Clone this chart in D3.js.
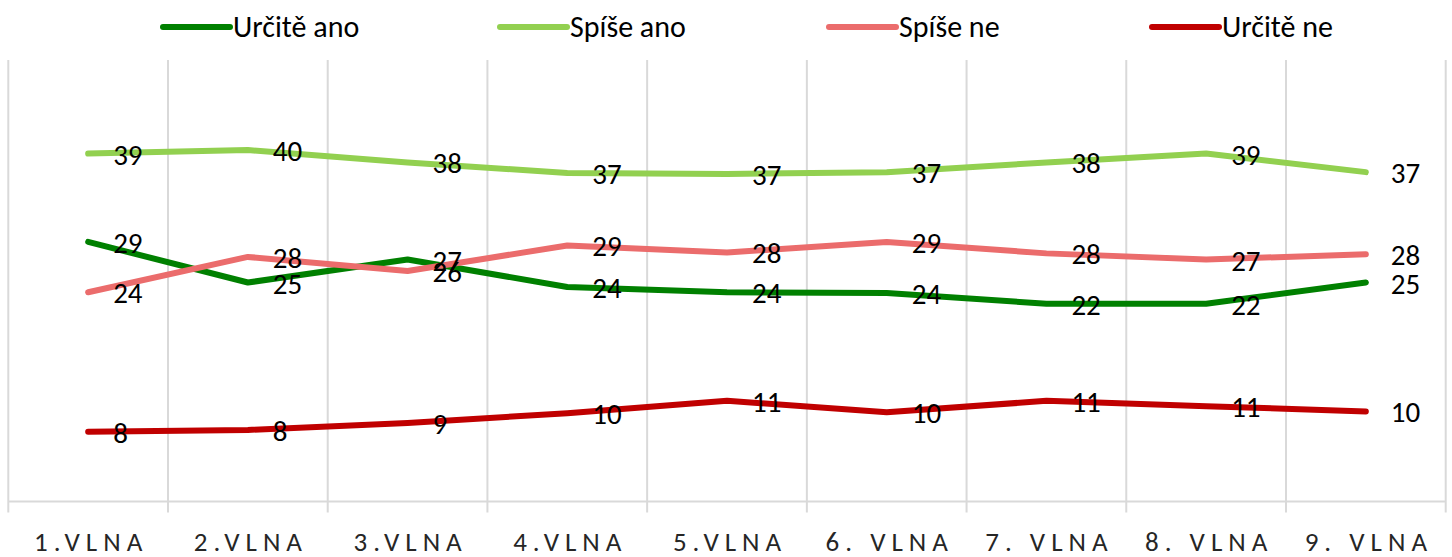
<!DOCTYPE html>
<html>
<head>
<meta charset="utf-8">
<script src="https://cdn.jsdelivr.net/npm/d3@7"></script>
<style>
  body { margin: 0; background: #fff; }
  svg { display: block; font-family: Carlito, Lato, sans-serif; }
</style>
</head>
<body>
<svg width="1452" height="557"></svg>
<script>
// waves on the x axis
var waves = ["1.VLNA", "2.VLNA", "3.VLNA", "4.VLNA", "5.VLNA", "6. VLNA", "7. VLNA", "8. VLNA", "9. VLNA"];

// series values (labels show rounded values)
var urciteAno = [29.4, 24.8, 27.4, 24.3, 23.7, 23.6, 22.4, 22.4, 24.8];
var spiseAno  = [39.4, 39.8, 38.4, 37.2, 37.1, 37.3, 38.4, 39.4, 37.3];
var spiseNe   = [23.7, 27.7, 26.1, 29.0, 28.2, 29.4, 28.1, 27.4, 28.0];
var urciteNe  = [7.9, 8.1, 8.9, 10.0, 11.4, 10.1, 11.4, 10.8, 10.2];

var seriesNames  = ["Určitě ano", "Spíše ano", "Spíše ne", "Určitě ne"];
var seriesColors = ["#008000", "#92d050", "#eb6c6c", "#c00000"];

var series = [urciteAno, spiseAno, spiseNe, urciteNe].map((values, i) => ({
  name: seriesNames[i],
  color: seriesColors[i],
  values: values
}));

var svg = d3.select("svg");

var x = d3.scaleBand().domain(waves).range([8.3, 1445.7]);
var y = d3.scaleLinear().domain([0, 50]).range([501.5, 60]);

// vertical gridlines at category boundaries
var bounds = waves.map(w => x(w)).concat([x.range()[1]]);
svg.append("g")
  .selectAll("line")
  .data(bounds)
  .enter()
  .append("line")
  .attr("x1", d => d)
  .attr("x2", d => d)
  .attr("y1", y(50))
  .attr("y2", y(0) + 11)
  .style("stroke", "#d9d9d9")
  .style("stroke-width", 2);

// category axis
svg.append("line")
  .attr("x1", x.range()[0])
  .attr("x2", x.range()[1])
  .attr("y1", y(0))
  .attr("y2", y(0))
  .style("stroke", "#d9d9d9")
  .style("stroke-width", 2);

svg.append("g")
  .selectAll("text")
  .data(waves)
  .enter()
  .append("text")
  .attr("x", d => x(d) + x.bandwidth() / 2 + 3)
  .attr("y", 551)
  .attr("text-anchor", "middle")
  .style("font-size", "27px")
  .style("letter-spacing", "6px")
  .style("fill", "#262626")
  .text(d => d);

var line = d3.line()
  .x((d, i) => x(waves[i]) + x.bandwidth() / 2)
  .y(d => y(d));

svg.append("g")
  .selectAll("path")
  .data(series)
  .enter()
  .append("path")
  .attr("d", d => line(d.values))
  .style("fill", "none")
  .style("stroke", d => d.color)
  .style("stroke-width", 6)
  .style("stroke-linecap", "round")
  .style("stroke-linejoin", "round");

// data labels to the right of each point
var labels = svg.append("g");
series.forEach(s => {
  labels.selectAll(null)
    .data(s.values)
    .enter()
    .append("text")
    .attr("x", (d, i) => x(waves[i]) + x.bandwidth() / 2 + 25)
    .attr("y", d => y(d) + 11)
    .style("font-size", "29px")
    .style("fill", "#000")
    .text(d => d3.format(".0f")(d));
});

// legend
var legendX = [163, 500, 829, 1152];
var legend = svg.append("g")
  .selectAll("g")
  .data(series)
  .enter()
  .append("g")
  .attr("transform", (d, i) => "translate(" + legendX[i] + ",27)");

legend.append("line")
  .attr("x1", 0)
  .attr("x2", 67)
  .style("stroke", d => d.color)
  .style("stroke-width", 6)
  .style("stroke-linecap", "round");

legend.append("text")
  .attr("x", 70)
  .attr("y", 10)
  .style("font-size", "30px")
  .style("fill", "#000")
  .text(d => d.name);
</script>
</body>
</html>
